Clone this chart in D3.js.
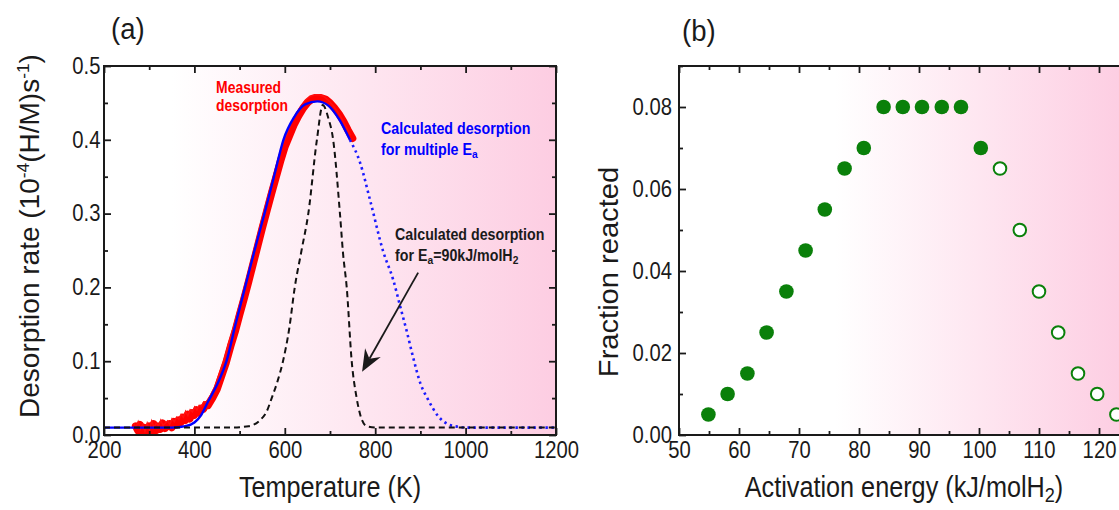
<!DOCTYPE html>
<html>
<head>
<meta charset="utf-8">
<script src="https://cdn.jsdelivr.net/npm/d3@7"></script>
<style>
  html, body { margin: 0; padding: 0; background: #fff; }
  svg { display: block; font-family: "Liberation Sans", Arial, sans-serif; }
</style>
</head>
<body>
<svg id="chart" width="1119" height="510"></svg>
<script>
// ---------- Panel (a): thermal desorption spectra ----------
// Measured desorption rate (10^-4 (H/M)/s) vs temperature (K)
const measuredT = [270, 275, 280, 285, 290, 295, 300, 305, 310, 315, 320, 325, 330, 335, 340, 345, 350, 355, 360, 365,
  370, 375, 380, 385, 390, 395, 400, 405, 410, 415, 420, 425, 430, 440, 450, 460, 470, 480, 490, 500,
  510, 520, 530, 540, 550, 560, 570, 580, 590, 600, 610, 620, 630, 640, 650, 660, 670, 680, 690, 700,
  710, 720, 730, 740, 750];
const measuredRate = [0.012, 0.006, 0.014, 0.004, 0.010, 0.001, 0.012, 0.003, 0.015, 0.006, 0.012, 0.008, 0.016, 0.009, 0.012, 0.015, 0.010, 0.018, 0.014, 0.020,
  0.017, 0.024, 0.020, 0.028, 0.022, 0.030, 0.027, 0.034, 0.030, 0.036, 0.035, 0.041, 0.040, 0.050, 0.062, 0.080, 0.098, 0.120, 0.140, 0.163,
  0.185, 0.208, 0.232, 0.256, 0.280, 0.303, 0.326, 0.348, 0.370, 0.390, 0.405, 0.420, 0.432, 0.442, 0.450, 0.455, 0.457, 0.457, 0.455, 0.450,
  0.443, 0.435, 0.425, 0.413, 0.402];

// Calculated desorption with a distribution of activation energies
const multiT = [200, 350, 380, 400, 415, 430, 450, 471, 491, 512, 533, 555, 576, 597, 620, 645, 672, 697, 720, 744,
  766, 790, 817, 840, 855, 870, 884, 900, 917, 940, 960, 985, 1000, 1200];
const multiRate = [0.010, 0.010, 0.012, 0.017, 0.027, 0.045, 0.068, 0.100, 0.150, 0.200, 0.250, 0.300, 0.350, 0.400, 0.430, 0.448, 0.452, 0.446, 0.428, 0.400,
  0.370, 0.315, 0.250, 0.210, 0.175, 0.140, 0.105, 0.070, 0.048, 0.025, 0.015, 0.011, 0.010, 0.010];
const measuredEnd = 744; // calculated curve drawn solid over the measured range, dotted beyond

// Calculated desorption for a single activation energy, Ea = 90 kJ/molH2
const singleT = [200, 480, 520, 545, 560, 571, 585, 596, 610, 622, 637, 652, 671, 684, 696, 707, 722, 729, 737, 748,
  759, 768, 781, 800, 1200];
const singleRate = [0.010, 0.010, 0.012, 0.020, 0.032, 0.050, 0.075, 0.100, 0.145, 0.200, 0.250, 0.300, 0.400, 0.447, 0.430, 0.400, 0.300, 0.245, 0.200, 0.100,
  0.050, 0.025, 0.012, 0.010, 0.010];

const tempTicks = [200, 400, 600, 800, 1000, 1200];
const tempMinorTicks = [300, 500, 700, 900, 1100];
const rateTicks = [0.0, 0.1, 0.2, 0.3, 0.4, 0.5];
const rateMinorTicks = [0.05, 0.15, 0.25, 0.35, 0.45];

// ---------- Panel (b): fraction reacted per activation energy ----------
const energy = [54.9, 58.1, 61.4, 64.6, 67.9, 71.1, 74.3, 77.6, 80.8, 84.1, 87.3, 90.5, 93.8, 97.0, 100.3,
  103.5, 106.8, 110.0, 113.2, 116.5, 119.7, 122.9];
const fraction = [0.005, 0.010, 0.015, 0.025, 0.035, 0.045, 0.055, 0.065, 0.070, 0.080, 0.080, 0.080, 0.080, 0.080, 0.070,
  0.065, 0.050, 0.035, 0.025, 0.015, 0.010, 0.005];
const filled = [true, true, true, true, true, true, true, true, true, true, true, true, true, true, true,
  false, false, false, false, false, false, false];

const energyTicks = [50, 60, 70, 80, 90, 100, 110, 120, 130];
const energyMinorTicks = [55, 65, 75, 85, 95, 105, 115, 125];
const fractionTicks = [0.00, 0.02, 0.04, 0.06, 0.08];
const fractionMinorTicks = [0.01, 0.03, 0.05, 0.07, 0.09];

// ---------- layout ----------
const svg = d3.select("#chart");
const PINK = "#fdcde2";
const INK = "#1a1a1a";
const TICK_FONT = 23, TICK_SQUEEZE = 0.88;

const A = { left: 104, right: 556, top: 66, bottom: 435 };
const B = { left: 679, right: 1159, top: 66, bottom: 435 };

const xA = d3.scaleLinear().domain([200, 1200]).range([A.left, A.right]);
const yA = d3.scaleLinear().domain([0, 0.5]).range([A.bottom, A.top]);
const xB = d3.scaleLinear().domain([50, 130]).range([B.left, B.right]);
const yB = d3.scaleLinear().domain([0, 0.09]).range([B.bottom, B.top]);

const defs = svg.append("defs");
function gradient(id, box, whiteUntil) {
  const g = defs.append("linearGradient").attr("id", id)
    .attr("gradientUnits", "userSpaceOnUse")
    .attr("x1", box.left).attr("x2", box.right).attr("y1", 0).attr("y2", 0);
  g.append("stop").attr("offset", 0).attr("stop-color", "#ffffff");
  g.append("stop").attr("offset", whiteUntil).attr("stop-color", "#ffffff");
  g.append("stop").attr("offset", 1).attr("stop-color", PINK);
}
gradient("bgA", A, 0.15);
gradient("bgB", { left: B.left, right: 1125 }, 0.35);

defs.append("clipPath").attr("id", "clipA").append("rect")
  .attr("x", A.left).attr("y", A.top).attr("width", A.right - A.left).attr("height", A.bottom - A.top);

function panelBackground(box, fillId) {
  svg.append("rect").attr("x", box.left).attr("y", box.top)
    .attr("width", box.right - box.left).attr("height", box.bottom - box.top)
    .attr("fill", `url(#${fillId})`);
}

function drawAxes(box, x, y, xt, xm, yt, ym, xfmt, yfmt, yPad) {
  const g = svg.append("g");
  const major = 7, minor = 4;
  const make = (axis, tr) => {
    const a = g.append("g").attr("transform", tr).call(axis);
    a.select(".domain").remove();
    a.selectAll(".tick line").attr("stroke", INK).attr("stroke-width", 1.8);
    return a;
  };
  // bottom (labelled) + minor
  const bx = make(d3.axisBottom(x).tickValues(xt).tickSize(-major).tickPadding(7).tickFormat(xfmt), `translate(0,${box.bottom})`);
  make(d3.axisBottom(x).tickValues(xm).tickSize(-minor).tickFormat(""), `translate(0,${box.bottom})`);
  // top mirror
  make(d3.axisTop(x).tickValues(xt).tickSize(-major).tickFormat(""), `translate(0,${box.top})`);
  make(d3.axisTop(x).tickValues(xm).tickSize(-minor).tickFormat(""), `translate(0,${box.top})`);
  // left (labelled) + minor
  const ly = make(d3.axisLeft(y).tickValues(yt).tickSize(-major).tickPadding(yPad).tickFormat(yfmt), `translate(${box.left},0)`);
  make(d3.axisLeft(y).tickValues(ym).tickSize(-minor).tickFormat(""), `translate(${box.left},0)`);
  // right mirror
  make(d3.axisRight(y).tickValues(yt).tickSize(-major).tickFormat(""), `translate(${box.right},0)`);
  make(d3.axisRight(y).tickValues(ym).tickSize(-minor).tickFormat(""), `translate(${box.right},0)`);

  [bx, ly].forEach(a => a.selectAll(".tick text")
    .attr("fill", INK).attr("font-size", TICK_FONT)
    .attr("font-family", "'Liberation Sans', Arial, sans-serif")
    .attr("transform", `scale(${TICK_SQUEEZE},1)`));

  // frame
  svg.append("rect").attr("x", box.left).attr("y", box.top)
    .attr("width", box.right - box.left).attr("height", box.bottom - box.top)
    .attr("fill", "none").attr("stroke", INK).attr("stroke-width", 2);
}

// text helper: squeezed horizontally to the narrow typeface look
function label(parent, x, y, opts) {
  const t = parent.append("text")
    .attr("transform", `translate(${x},${y})` + (opts.rotate ? " rotate(-90)" : "") + ` scale(${opts.sx || 1},1)`)
    .attr("text-anchor", opts.anchor || "start")
    .attr("font-size", opts.size)
    .attr("font-weight", opts.bold ? "bold" : "normal")
    .attr("fill", opts.color || INK);
  (opts.parts || [[opts.text]]).forEach(([s, kind]) => {
    const ts = t.append("tspan").text(s);
    if (kind === "sup") ts.attr("font-size", opts.size * 0.62).attr("baseline-shift", "58%");
    if (kind === "sub") ts.attr("font-size", opts.size * 0.72).attr("baseline-shift", "-26%");
  });
  return t;
}

// ================= Panel (a) =================
panelBackground(A, "bgA");
const plotA = svg.append("g").attr("clip-path", "url(#clipA)");

const lineA = d3.line().x(d => xA(d[0])).y(d => yA(d[1]));
const smoothA = d3.line().curve(d3.curveMonotoneX).x(d => xA(d[0])).y(d => yA(d[1]));

const measured = measuredT.map((t, i) => [t, measuredRate[i]]);
const multi = multiT.map((t, i) => [t, multiRate[i]]);
const single = singleT.map((t, i) => [t, singleRate[i]]);

// measured spectrum: broad noisy red trace
plotA.append("path").datum(measured).attr("d", lineA)
  .attr("fill", "none").attr("stroke", "#ff0000").attr("stroke-width", 7.5)
  .attr("stroke-linejoin", "round").attr("stroke-linecap", "round");
plotA.append("path").datum(measured).attr("d", lineA)
  .attr("fill", "none").attr("stroke", "#ff1010").attr("stroke-width", 1.4)
  .attr("transform", "translate(-2,-3)");

// calculated (multiple Ea): solid within measured range, dotted beyond
plotA.append("path").datum(multi.filter(d => d[0] <= measuredEnd)).attr("d", smoothA)
  .attr("fill", "none").attr("stroke", "#0000ff").attr("stroke-width", 2.4);
plotA.append("path").datum(multi.filter(d => d[0] >= measuredEnd)).attr("d", smoothA)
  .attr("fill", "none").attr("stroke", "#1a1aff").attr("stroke-width", 2.6)
  .attr("stroke-dasharray", "2.4,3.6");

// calculated (single Ea = 90 kJ/molH2): black dashed
plotA.append("path").datum(single).attr("d", smoothA)
  .attr("fill", "none").attr("stroke", "#111").attr("stroke-width", 2)
  .attr("stroke-dasharray", "6,4");

drawAxes(A, xA, yA, tempTicks, tempMinorTicks, rateTicks, rateMinorTicks,
  d3.format("d"), d3.format(".1f"), 4);

// annotations in panel (a)
const notes = svg.append("g");
label(notes, xA(448), yA(0.463), { text: "Measured", size: 16, bold: true, color: "#ff0000", sx: 0.87 });
label(notes, xA(448), yA(0.439), { text: "desorption", size: 16, bold: true, color: "#ff0000", sx: 0.87 });

label(notes, xA(813), yA(0.408), { text: "Calculated desorption", size: 16, bold: true, color: "#0000ff", sx: 0.89 });
label(notes, xA(813), yA(0.380), { size: 16, bold: true, color: "#0000ff", sx: 0.89,
  parts: [["for multiple E"], ["a", "sub"]] });

label(notes, xA(844), yA(0.264), { text: "Calculated desorption", size: 16, bold: true, color: INK, sx: 0.89 });
label(notes, xA(844), yA(0.236), { size: 16, bold: true, color: INK, sx: 0.89,
  parts: [["for E"], ["a", "sub"], ["=90kJ/molH"], ["2", "sub"]] });

// arrow pointing at the single-Ea curve
const tail = [xA(895), yA(0.220)], tip = [xA(771), yA(0.0856)];
const ang = Math.atan2(tip[1] - tail[1], tip[0] - tail[0]);
const headLen = 22, headHalf = 9, notch = 15;
const ux = Math.cos(ang), uy = Math.sin(ang), px = -uy, py = ux;
const baseX = tip[0] - ux * headLen, baseY = tip[1] - uy * headLen;
notes.append("line")
  .attr("x1", tail[0]).attr("y1", tail[1])
  .attr("x2", tip[0] - ux * notch).attr("y2", tip[1] - uy * notch)
  .attr("stroke", INK).attr("stroke-width", 1.8);
notes.append("path")
  .attr("d", `M${tip[0]},${tip[1]} L${baseX + px * headHalf},${baseY + py * headHalf} ` +
    `L${tip[0] - ux * notch},${tip[1] - uy * notch} L${baseX - px * headHalf},${baseY - py * headHalf} Z`)
  .attr("fill", INK);

// axis titles (a)
label(svg, (A.left + A.right) / 2, 497, { text: "Temperature (K)", size: 29, anchor: "middle", sx: 0.87 });
label(svg, 39, 236, { size: 28, anchor: "middle", rotate: true,
  parts: [["Desorption rate (10"], ["-4", "sup"], ["(H/M)s"], ["-1", "sup"], [")"]] });
label(svg, 111, 39, { text: "(a)", size: 29, sx: 0.95 });

// ================= Panel (b) =================
panelBackground(B, "bgB");

const pts = energy.map((e, i) => ({ e, f: fraction[i], filled: filled[i] }));
svg.append("g").selectAll("circle").data(pts).join("circle")
  .attr("cx", d => xB(d.e)).attr("cy", d => yB(d.f))
  .attr("r", d => d.filled ? 7.3 : 6.3)
  .attr("fill", d => d.filled ? "#0a800a" : "#ffffff")
  .attr("stroke", "#0a800a").attr("stroke-width", d => d.filled ? 0 : 2);

drawAxes(B, xB, yB, energyTicks, energyMinorTicks, fractionTicks, fractionMinorTicks,
  d3.format("d"), d3.format(".2f"), 8);

label(svg, 904, 497, { size: 29, anchor: "middle", sx: 0.87,
  parts: [["Activation energy (kJ/molH"], ["2", "sub"], [")"]] });
label(svg, 618, 272, { text: "Fraction reacted", size: 28, anchor: "middle", rotate: true, sx: 1.04 });
label(svg, 682, 41, { text: "(b)", size: 29, sx: 0.95 });
</script>
</body>
</html>
